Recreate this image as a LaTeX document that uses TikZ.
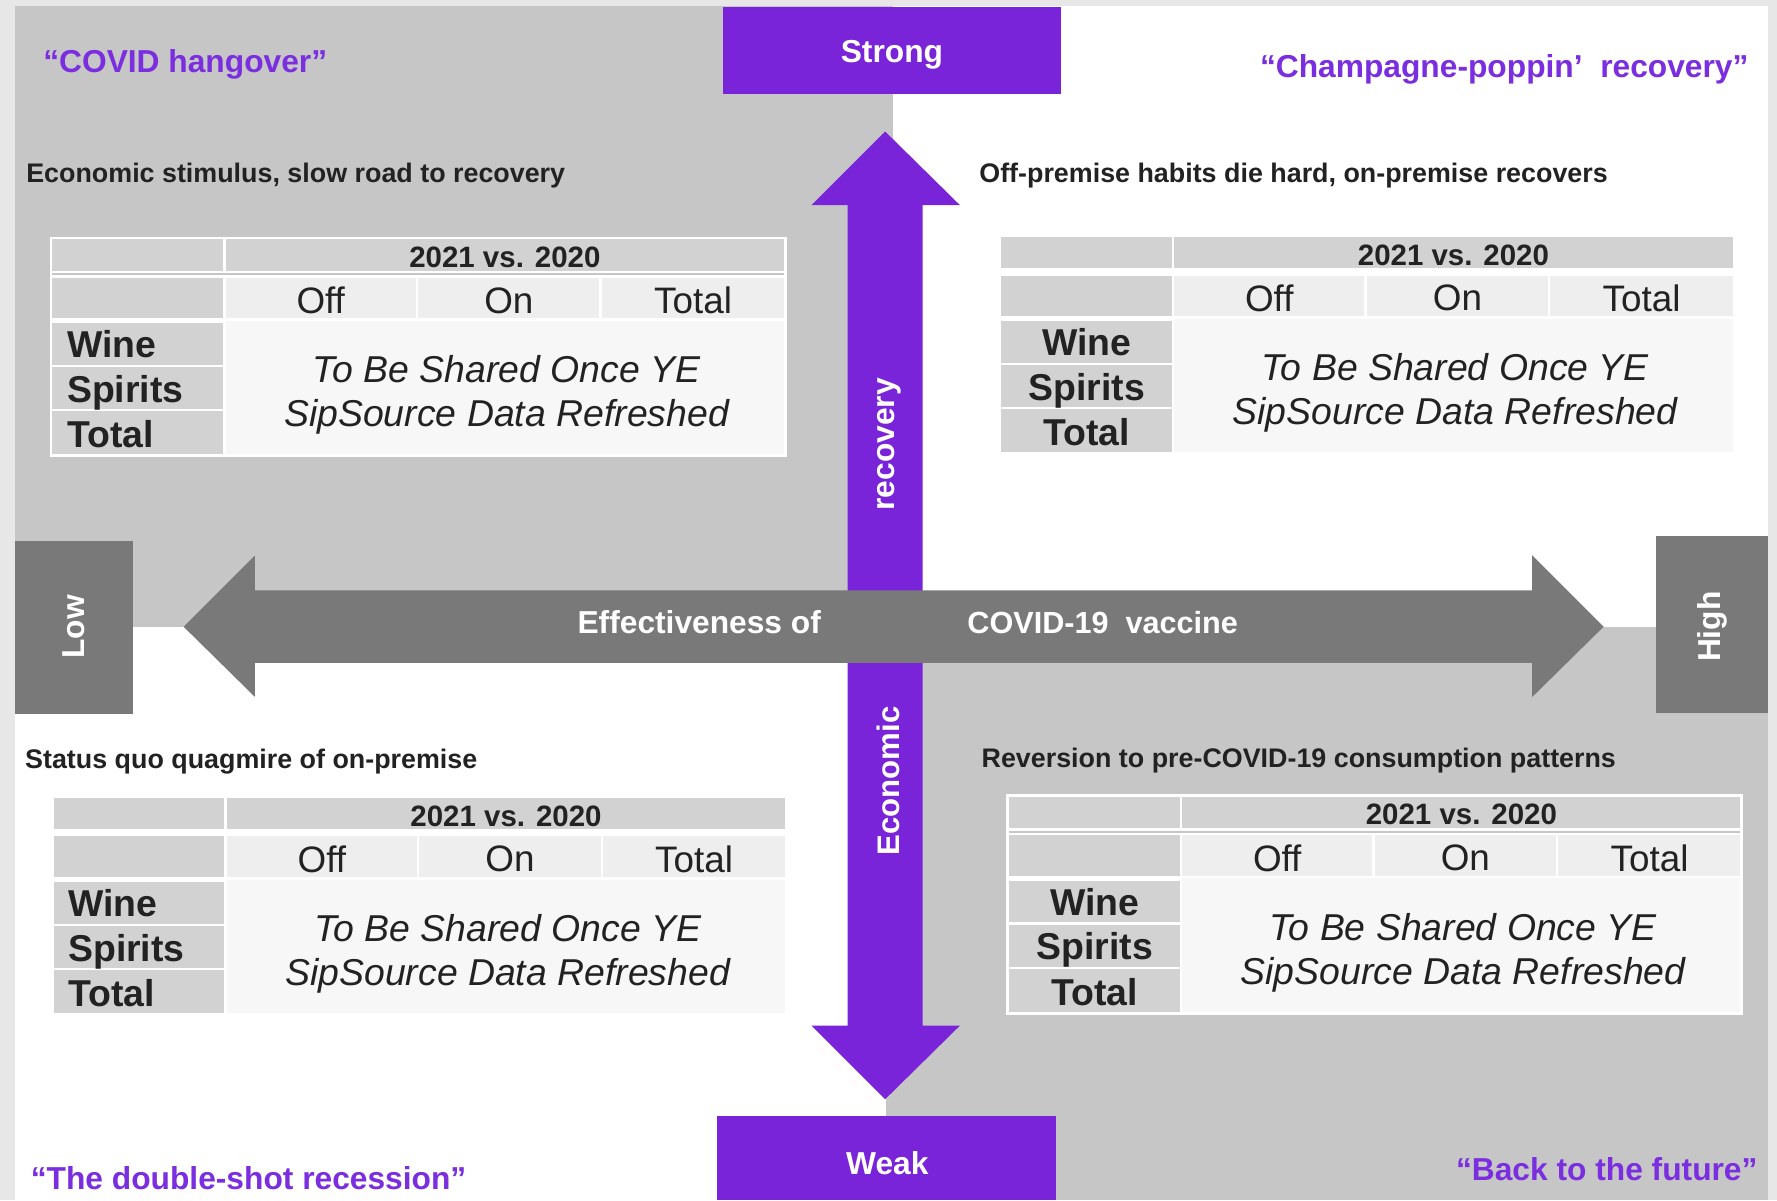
\documentclass[tikz,border=0pt]{standalone}
\usepackage{fontspec}
\setmainfont{Liberation Sans}
\definecolor{purp}{HTML}{7A24D9}
\definecolor{qpurp}{HTML}{7B2DE0}
\definecolor{agray}{HTML}{797979}
\definecolor{qgray}{HTML}{C6C6C6}
\definecolor{framec}{HTML}{E7E7E7}
\definecolor{hdr}{HTML}{D2D2D2}
\definecolor{subc}{HTML}{EEEEEE}
\definecolor{bodyc}{HTML}{F7F7F7}
\definecolor{ink}{HTML}{222222}
\tikzset{
  cell/.style={draw=white, line width=2.2pt},
  quote/.style={text=qpurp, inner sep=0pt, font=\bfseries\fontsize{28}{30}\selectfont},
  subtitle/.style={text=ink, inner sep=0pt, anchor=west, font=\bfseries\fontsize{23.7}{25}\selectfont},
  whitelbl/.style={text=white, inner sep=0pt, font=\bfseries\fontsize{28}{30}\selectfont},
  hdrtxt/.style={text=ink, inner sep=0pt, font=\bfseries\fontsize{26}{28}\selectfont},
  coltxt/.style={text=ink, inner sep=0pt, font=\fontsize{32.5}{34}\selectfont},
  rowtxt/.style={text=ink, inner sep=0pt, font=\bfseries\fontsize{33}{35}\selectfont},
  bodytxt/.style={text=ink, inner sep=0pt, font=\itshape\fontsize{33}{35}\selectfont},
}
\newcommand\qtab[5]{%
\begin{scope}[shift={(#2,#3)}]
  \filldraw[cell, fill=hdr] (0,0) rectangle (153,30);
  \filldraw[cell, fill=hdr] (153,0) rectangle (648,30);
  \filldraw[cell, fill=hdr] (0,34) rectangle (153,72);
  \filldraw[cell, fill=subc] (153,34) rectangle (323,72);
  \filldraw[cell, fill=subc] (323,34) rectangle (485,72);
  \filldraw[cell, fill=subc] (485,34) rectangle (648,72);
  \filldraw[cell, fill=hdr] (0,74) rectangle (153,113);
  \filldraw[cell, fill=hdr] (0,113) rectangle (153,152);
  \filldraw[cell, fill=hdr] (0,152) rectangle (153,192);
  \filldraw[cell, fill=bodyc] (153,72) rectangle (648,192);
  \draw[white, line width=2.5pt] (0,0) rectangle (648,192);
  \node[hdrtxt] (#1-h) at (400.5,17) {2021 vs. 2020};
  \node[coltxt] (#1-off) at (238,55) {Off};
  \node[coltxt] (#1-on) at (404,55) {On};
  \node[coltxt] (#1-tot) at (566.5,55) {Total};
  \node[rowtxt, anchor=#5] (#1-wine) at (#4,94) {Wine};
  \node[rowtxt, anchor=#5] (#1-spirits) at (#4,136.5) {Spirits};
  \node[rowtxt, anchor=#5] (#1-total) at (#4,173.5) {Total};
  \node[bodytxt] (#1-b1) at (402,116) {To Be Shared Once YE};
  \node[bodytxt] (#1-b2) at (402,158) {SipSource Data Refreshed};
\end{scope}}
\begin{document}
\begin{tikzpicture}[x=1pt, y=-1pt]
\useasboundingbox (0,0) rectangle (1568,1059);
% backgrounds
\fill[framec] (0,0) rectangle (1568,1059);
\fill[qgray] (13,5) rectangle (788,553);
\fill[white] (788,5) rectangle (1560,553);
\fill[white] (13,553) rectangle (782,1059);
\fill[qgray] (782,553) rectangle (1560,1059);
% end boxes
\fill[purp] (638,6) rectangle (936,83);
\node[whitelbl] (strong) at (787,48) {Strong};
\fill[purp] (633,985) rectangle (932,1059);
\node[whitelbl] (weak) at (783,1026) {Weak};
\fill[agray] (13,477) rectangle (117,630);
\node[whitelbl, rotate=90] (low) at (65,553) {Low};
\fill[agray] (1461,473) rectangle (1560,629);
\node[whitelbl, rotate=90] (high) at (1511,553) {High};
% vertical arrow
\fill[purp] (748,181) -- (716,181) -- (781,116) -- (847,181) -- (814,181) -- (814,905) -- (847,905) -- (781,970) -- (716,905) -- (748,905) -- cycle;
\node[whitelbl, rotate=90, font=\bfseries\fontsize{28}{30}\selectfont] (recovery) at (785,392) {recovery};
\node[whitelbl, rotate=90, font=\bfseries\fontsize{27.5}{29}\selectfont] (economic) at (784,689) {Economic};
% horizontal arrow
\fill[agray] (225,521) -- (225,490) -- (162,553) -- (225,615) -- (225,585) -- (1352,585) -- (1352,615) -- (1415,553) -- (1352,490) -- (1352,521) -- cycle;
\node[whitelbl, font=\bfseries\fontsize{28}{30}\selectfont] (eff) at (617,549) {Effectiveness of};
\node[whitelbl, font=\bfseries\fontsize{27}{29}\selectfont] (vac) at (973,549) {COVID-19\ \ vaccine};
% quadrant names
\node[quote, anchor=west] (q1) at (38,57) {“COVID hangover”};
\node[quote, anchor=east] (q2) at (1543,61) {“Champagne-poppin’\ \ recovery”};
\node[quote, anchor=west] (q3) at (27,1040) {“The double-shot recession”};
\node[quote, anchor=east] (q4) at (1551,1032) {“Back to the future”};
% subtitles
\node[subtitle] (s1) at (23,155) {Economic stimulus, slow road to recovery};
\node[subtitle] (s2) at (864,155) {Off-premise habits die hard, on-premise recovers};
\node[subtitle] (s3) at (22,672) {Status quo quagmire of on-premise};
\node[subtitle] (s4) at (866,671) {Reversion to pre-COVID-19 consumption patterns};
% tables
\qtab{t1}{45}{210}{14}{west}
\qtab{t2}{882}{208}{77}{center}
\qtab{t3}{46}{703}{14}{west}
\qtab{t4}{889}{702}{77}{center}
\end{tikzpicture}
\end{document}
